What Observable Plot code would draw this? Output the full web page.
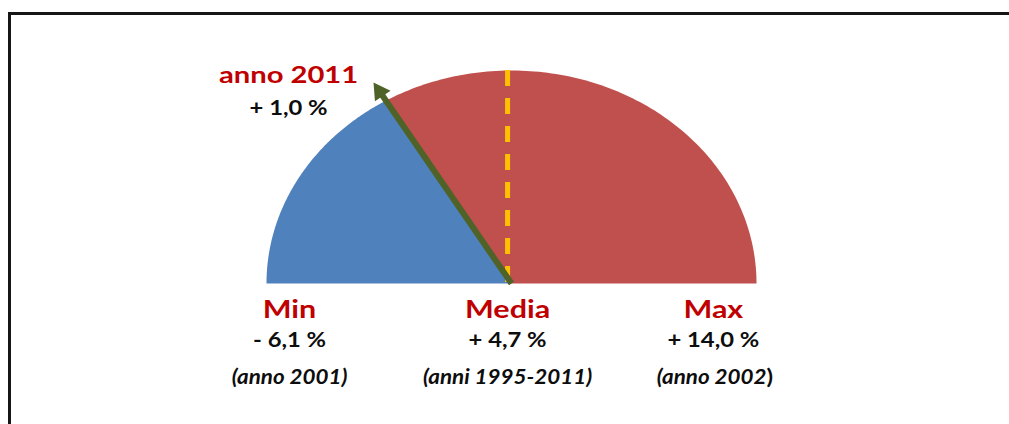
<!DOCTYPE html>
<html><head><meta charset="utf-8">
<script src="https://cdn.jsdelivr.net/npm/d3@7"></script>
<script src="https://cdn.jsdelivr.net/npm/@observablehq/plot@0.6"></script>
<style>
html,body{margin:0;padding:0;background:#fff;overflow:hidden;width:1009px;height:424px}
#frame{position:absolute;left:8px;top:12px;width:1200px;height:600px;border-left:3px solid #161616;border-top:3px solid #161616;box-sizing:border-box}
#chart{position:absolute;left:0;top:0}
</style></head><body>
<div id="frame"></div><div id="chart"></div>
<script>
// ---- data ----
const statLabels = ["Min", "Media", "Max"];
const statValues = [-6.1, 4.7, 14.0];
const statPeriods = ["(anno 2001)", "(anni 1995-2011)", "(anno 2002"];
const currentLabel = "anno 2011";
const currentValue = 1.0;

// ---- layout (unit coordinates: gauge centre (0,0), radius 1) ----
const LABEL_X = [-0.906, -0.016, 0.824];
const ROW_Y = [-0.164, -0.300, -0.474];
const ANNOT_X = -0.91, ANNOT_Y = [0.939, 0.789];
const PERIOD_MAX_END = 1.041;
const PX_X = 245, PX_Y = 213;

const fmt = v => (v < 0 ? "- " : "+ ") + Math.abs(v).toFixed(1).replace(".", ",") + " %";

const [vMin, vMean, vMax] = statValues;
const angle = d3.scaleLinear().domain([vMin, vMean, vMax]).range([Math.PI, Math.PI / 2, 0]);
const aCur = angle(currentValue);

function sector(a0, a1) {
  const n = 120, pts = [{x: 0, y: 0}];
  for (let i = 0; i <= n; i++) {
    const a = a0 + (a1 - a0) * i / n;
    pts.push({x: Math.cos(a), y: Math.sin(a)});
  }
  pts.push({x: 0, y: 0});
  return pts;
}
const lowPart = sector(angle(vMin), aCur);
const highPart = sector(aCur, angle(vMax));

// needle
const pxLen = Math.hypot(PX_X * Math.cos(aCur), PX_Y * Math.sin(aCur));
const tipR = 1.095, headHalf = 10 / pxLen;
const headR = tipR - headHalf;
const rot = Math.atan2(PX_X * Math.cos(aCur), PX_Y * Math.sin(aCur)) * 180 / Math.PI;
const needle = [{x1: 0, y1: 0, x2: headR * Math.cos(aCur), y2: headR * Math.sin(aCur)}];
const head = [{x: headR * Math.cos(aCur), y: headR * Math.sin(aCur)}];

const RED = "#c00000", INK = "#0d0d0d";
const bold = {fontWeight: "bold", fontFamily: "Lato", lineAnchor: "bottom"};

const chart = Plot.plot({
  width: 1009, height: 424,
  x: {domain: [-1, 1], range: [266, 756], axis: null},
  y: {domain: [0, 1], range: [283, 70], axis: null},
  style: {background: "transparent", overflow: "visible", fontFamily: "Lato"},
  marks: [
    Plot.line(lowPart, {x: "x", y: "y", fill: "#4f81bd", stroke: "none"}),
    Plot.line(highPart, {x: "x", y: "y", fill: "#c0504d", stroke: "none"}),
    Plot.ruleX([vMean], {x: d => Math.cos(angle(d)) - 0.016, y1: 1, y2: 0, stroke: "#ffc000", strokeWidth: 5, strokeDasharray: "16,12"}),
    Plot.link(needle, {x1: "x1", y1: "y1", x2: "x2", y2: "y2", stroke: "#4f6228", strokeWidth: 6}),
    Plot.dot(head, {x: "x", y: "y", symbol: "triangle", r: 7, rotate: rot, fill: "#4f6228", stroke: "none"}),
    // annotation of current value
    Plot.text([currentLabel], {x: () => ANNOT_X, y: () => ANNOT_Y[0], text: d => d, fill: RED, fontSize: 23, ...bold}),
    Plot.text([currentValue], {x: () => ANNOT_X, y: () => ANNOT_Y[1], text: d => fmt(d), fill: INK, fontSize: 20, ...bold}),
    // min / mean / max
    Plot.text(statLabels, {x: (d, i) => LABEL_X[i], y: () => ROW_Y[0], text: d => d, fill: RED, fontSize: 24, ...bold}),
    Plot.text(statValues, {x: (d, i) => LABEL_X[i], y: () => ROW_Y[1], text: d => fmt(d), fill: INK, fontSize: 20, ...bold}),
    Plot.text(statPeriods.slice(0, 2), {x: (d, i) => LABEL_X[i], y: () => ROW_Y[2], text: d => d, fill: INK, fontSize: 20, fontStyle: "italic", ...bold}),
    Plot.text(statPeriods.slice(2), {x: () => PERIOD_MAX_END, y: () => ROW_Y[2], text: d => d, fill: INK, fontSize: 20, fontStyle: "italic", textAnchor: "end", ...bold}),
    Plot.text([")"], {x: () => PERIOD_MAX_END, y: () => ROW_Y[2], text: d => d, fill: INK, fontSize: 20, textAnchor: "start", ...bold})
  ]
});
document.getElementById("chart").appendChild(chart);
// widen glyphs horizontally, as in the (stretched) original
chart.querySelectorAll("text").forEach(t => {
  const tr = t.getAttribute("transform");
  if (!tr) return;
  const fs = parseFloat(t.closest("[font-size]")?.getAttribute("font-size") || "20");
  const italic = t.closest("[font-style]")?.getAttribute("font-style") === "italic";
  const s = fs >= 23 ? 1.27 : italic ? 1.12 : 1.19;
  t.setAttribute("transform", tr + ` scale(${s},1)`);
});
</script>
</body></html>
